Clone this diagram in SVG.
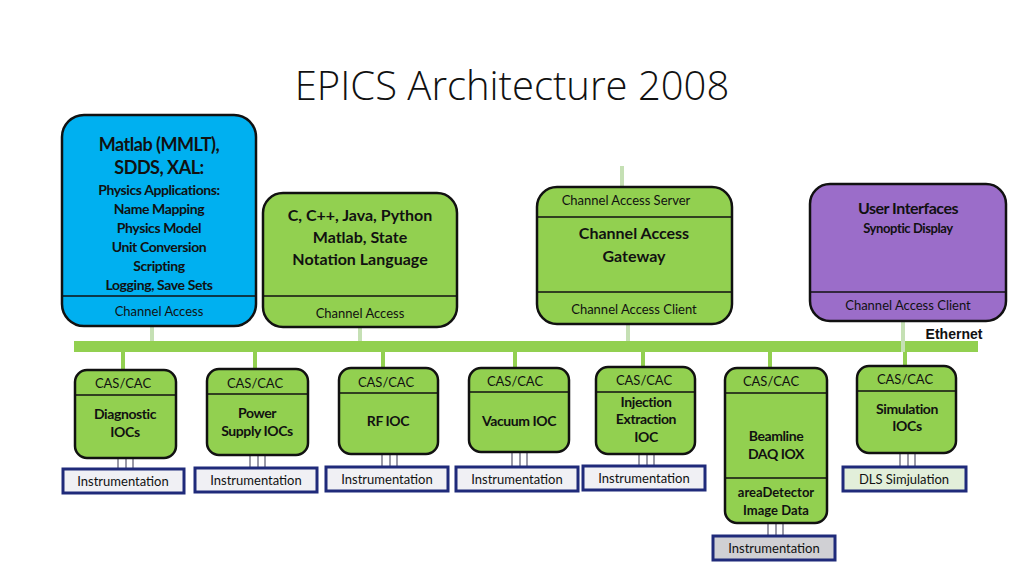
<svg xmlns="http://www.w3.org/2000/svg" width="1024" height="576" viewBox="0 0 1024 576">
<style>
text{font-family:Lato,"Open Sans",sans-serif;text-anchor:middle;fill:#111}
.b{font-weight:bold}
.g{fill:#92d050;stroke:#111;stroke-width:2.5}
.dv{stroke:#111;stroke-width:1.5}
.s13{font-size:13px}
.s16{font-size:16px;font-weight:bold}
.s14{font-size:14px;font-weight:bold;letter-spacing:-0.4px}
.in{fill:#f0f0f4;stroke:#1f2a7a;stroke-width:3}
.c{stroke:#c5e0b4;stroke-width:4}
.cg{stroke:#92d050;stroke-width:4}
.t{stroke:#7a7a8a;stroke-width:1.5}
</style>
<rect width="1024" height="576" fill="#fff"/>
<text x="512" y="100" style="font-size:40px;font-family:'Open Sans',sans-serif;font-weight:300">EPICS Architecture 2008</text>
<g id="connectors">
<rect x="74" y="341" width="904" height="11" fill="#92d050"/>
<line class="c" x1="152" y1="326" x2="152" y2="341"/>
<line class="c" x1="360" y1="327" x2="360" y2="341"/>
<line class="c" x1="622" y1="166" x2="622" y2="187"/>
<line class="c" x1="628" y1="324" x2="628" y2="341"/>
<line class="c" x1="903" y1="321" x2="903" y2="352"/>
<line class="cg" x1="123" y1="352" x2="123" y2="370"/>
<line class="cg" x1="255" y1="352" x2="255" y2="369"/>
<line class="cg" x1="383" y1="352" x2="383" y2="368"/>
<line class="cg" x1="515" y1="352" x2="515" y2="368"/>
<line class="cg" x1="643" y1="352" x2="643" y2="367"/>
<line class="cg" x1="770" y1="352" x2="770" y2="368"/>
<line class="cg" x1="905" y1="352" x2="905" y2="366"/>
<path class="t" d="M118 458V469M126 458V469M133 458V469M250 455V468M258 455V468M265 455V468M382 454V467M390 454V467M397 454V467M512 452V467M520 452V467M527 452V467M639 454V466M647 454V466M654 454V466M768 523V536M776 523V536M783 523V536M900 453V467M908 453V467M915 453V467"/>
</g>
<text x="954" y="339" style="font-size:14px;font-weight:bold;font-family:'Liberation Sans',sans-serif">Ethernet</text>
<g id="physics">
<rect x="62" y="115" width="194" height="211" rx="22" fill="#00b0f0" stroke="#111" stroke-width="2.5"/>
<line class="dv" x1="63" y1="296" x2="255" y2="296"/>
<text x="159" y="151" style="font-size:18px;font-weight:bold;letter-spacing:-0.5px">Matlab (MMLT),</text>
<text x="159" y="174" style="font-size:18px;font-weight:bold;letter-spacing:-0.5px">SDDS, XAL:</text>
<text x="159" y="195" class="s14">Physics Applications:</text>
<text x="159" y="214" class="s14">Name Mapping</text>
<text x="159" y="233" class="s14">Physics Model</text>
<text x="159" y="252" class="s14">Unit Conversion</text>
<text x="159" y="271" class="s14">Scripting</text>
<text x="159" y="290" class="s14">Logging, Save Sets</text>
<text x="159" y="316" class="s13">Channel Access</text>
</g>
<g id="languages">
<rect x="263" y="193" width="194" height="134" rx="20" class="g"/>
<line class="dv" x1="264" y1="296" x2="456" y2="296"/>
<text x="360" y="221" class="s16">C, C++, Java, Python</text>
<text x="360" y="243" class="s16">Matlab, State</text>
<text x="360" y="265" class="s16">Notation Language</text>
<text x="360" y="318" class="s13">Channel Access</text>
</g>
<g id="gateway">
<rect x="537" y="187" width="195" height="137" rx="20" class="g"/>
<line class="dv" x1="538" y1="217" x2="731" y2="217"/>
<line class="dv" x1="538" y1="292" x2="731" y2="292"/>
<text x="626" y="205" class="s13">Channel Access Server</text>
<text x="634" y="239" class="s16">Channel Access</text>
<text x="634" y="262" class="s16">Gateway</text>
<text x="634" y="314" class="s13">Channel Access Client</text>
</g>
<g id="ui">
<rect x="810" y="184" width="196" height="137" rx="20" fill="#9b6dc9" stroke="#111" stroke-width="2.5"/>
<line class="dv" x1="811" y1="292" x2="1005" y2="292"/>
<text x="908" y="214" class="s16" style="letter-spacing:-0.5px">User Interfaces</text>
<text x="908" y="233" class="s14" style="font-size:13px">Synoptic Display</text>
<text x="908" y="310" class="s13">Channel Access Client</text>
</g>
<g id="diag">
<rect x="75" y="370" width="101" height="88" rx="12" class="g"/>
<line class="dv" x1="76" y1="395" x2="175" y2="395"/>
<text x="123" y="388" class="s13">CAS/CAC</text>
<text x="125" y="419" class="s14">Diagnostic</text>
<text x="125" y="437" class="s14">IOCs</text>
</g>
<g id="power">
<rect x="207" y="369" width="101" height="86" rx="12" class="g"/>
<line class="dv" x1="208" y1="394" x2="307" y2="394"/>
<text x="255" y="388" class="s13">CAS/CAC</text>
<text x="257" y="418" class="s14">Power</text>
<text x="257" y="436" class="s14">Supply IOCs</text>
</g>
<g id="rf">
<rect x="339" y="368" width="99" height="86" rx="12" class="g"/>
<line class="dv" x1="340" y1="393" x2="437" y2="393"/>
<text x="386" y="387" class="s13">CAS/CAC</text>
<text x="388" y="426" class="s14">RF IOC</text>
</g>
<g id="vacuum">
<rect x="469" y="368" width="100" height="84" rx="12" class="g"/>
<line class="dv" x1="470" y1="392" x2="568" y2="392"/>
<text x="515" y="386" class="s13">CAS/CAC</text>
<text x="519" y="426" class="s14">Vacuum IOC</text>
</g>
<g id="injection">
<rect x="596" y="367" width="99" height="87" rx="12" class="g"/>
<line class="dv" x1="597" y1="392" x2="694" y2="392"/>
<text x="644" y="385" class="s13">CAS/CAC</text>
<text x="646" y="407" class="s14">Injection</text>
<text x="646" y="424" class="s14">Extraction</text>
<text x="646" y="442" class="s14">IOC</text>
</g>
<g id="beamline">
<rect x="725" y="368" width="102" height="155" rx="12" class="g"/>
<line class="dv" x1="726" y1="393" x2="826" y2="393"/>
<line class="dv" x1="726" y1="478" x2="826" y2="478"/>
<text x="771" y="386" class="s13">CAS/CAC</text>
<text x="776" y="441" class="s14">Beamline</text>
<text x="776" y="459" class="s14">DAQ IOX</text>
<text x="776" y="497" class="s13" style="font-weight:bold">areaDetector</text>
<text x="776" y="515" class="s13" style="font-weight:bold">Image Data</text>
</g>
<g id="simulation">
<rect x="857" y="366" width="99" height="87" rx="12" class="g"/>
<line class="dv" x1="858" y1="391" x2="955" y2="391"/>
<text x="905" y="384" class="s13">CAS/CAC</text>
<text x="907" y="414" class="s14">Simulation</text>
<text x="907" y="431" class="s14">IOCs</text>
</g>
<g id="instruments">
<rect x="63" y="469" width="121" height="24" class="in"/><text x="123" y="486" class="s13">Instrumentation</text>
<rect x="195" y="468" width="122" height="24" class="in"/><text x="256" y="485" class="s13">Instrumentation</text>
<rect x="326" y="467" width="122" height="24" class="in"/><text x="387" y="484" class="s13">Instrumentation</text>
<rect x="456" y="467" width="122" height="24" class="in"/><text x="517" y="484" class="s13">Instrumentation</text>
<rect x="583" y="466" width="122" height="24" class="in"/><text x="644" y="483" class="s13">Instrumentation</text>
<rect x="713" y="536" width="122" height="24" class="in" style="fill:#d0d0d4"/><text x="774" y="553" class="s13">Instrumentation</text>
<rect x="843" y="467" width="123" height="24" class="in" style="fill:#e2efda"/><text x="904" y="484" class="s13">DLS Simjulation</text>
</g>
</svg>
